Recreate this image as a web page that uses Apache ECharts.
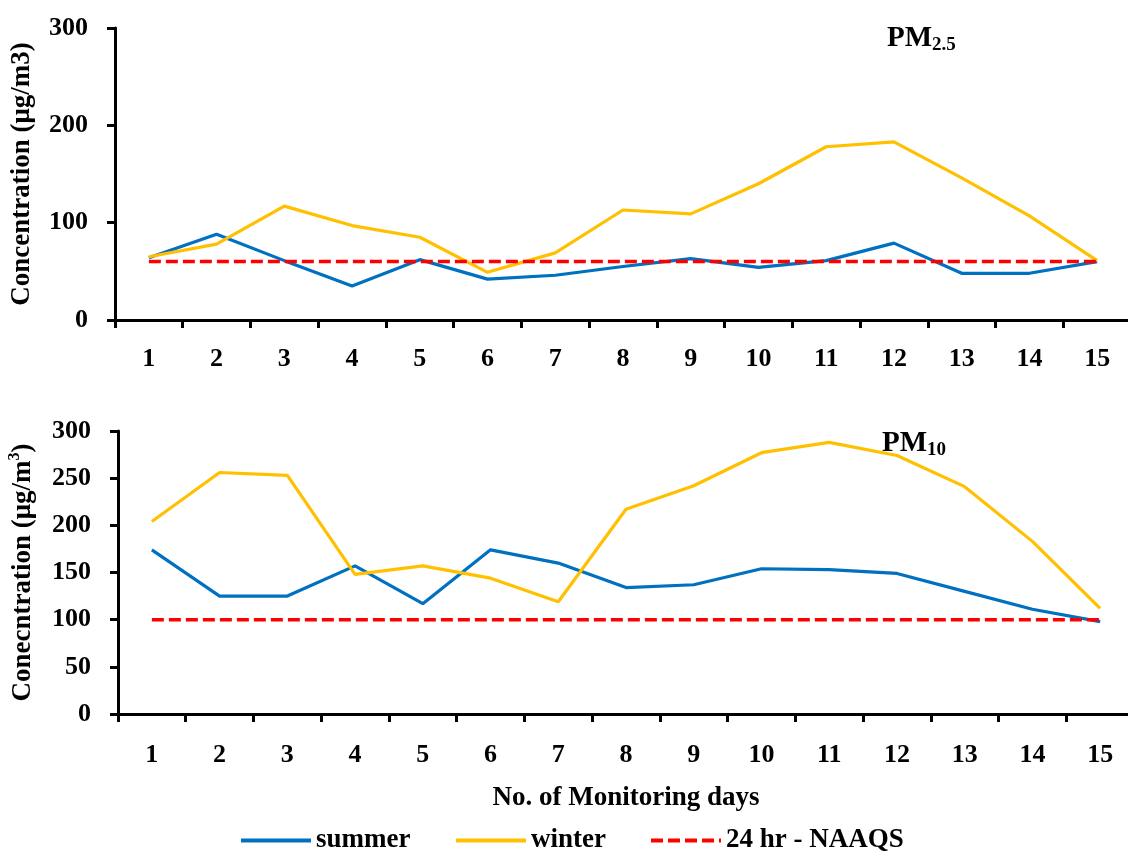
<!DOCTYPE html>
<html>
<head>
<meta charset="utf-8">
<script src="https://cdn.jsdelivr.net/npm/echarts@6/dist/echarts.min.js"></script>
<style>
  html, body { margin: 0; padding: 0; background: #fff; }
  #chart { width: 1128px; height: 852px; }
</style>
</head>
<body>
<div id="chart"></div>
<script>
// Monitoring days on the shared category axis
const days = ['1', '2', '3', '4', '5', '6', '7', '8', '9', '10', '11', '12', '13', '14', '15'];

// PM2.5 daily concentrations (µg/m3)
const pm25Summer = [64, 88, 61, 35, 62, 42, 46, 55, 63, 54, 61, 79, 48, 48, 60];
const pm25Winter = [65, 78, 117, 97, 85, 49, 69, 113, 109, 140, 178, 183, 146, 107, 61];
const pm25Limit = 60;

// PM10 daily concentrations (µg/m3)
const pm10Summer = [174, 125, 125, 157, 117, 174, 160, 134, 137, 154, 153, 149, 130, 111, 98];
const pm10Winter = [204, 256, 253, 148, 157, 144, 119, 217, 242, 277, 288, 274, 241, 183, 112];
const pm10Limit = 100;

const seriesNames = ['summer', 'winter', '24 hr - NAAQS'];

const FONT = "'Liberation Serif', 'DejaVu Serif', serif";
const TICK_SIZE = 26;
const NAME_SIZE = 27;
const BLUE = '#0070C0';
const GOLD = '#FFC000';
const RED = '#FF0000';

const chart = echarts.init(document.getElementById('chart'), null, { renderer: 'canvas' });

function xAxisFor(gridIndex, extra) {
  return Object.assign({
    type: 'category',
    gridIndex: gridIndex,
    data: days,
    boundaryGap: true,
    axisLine: { lineStyle: { color: '#000', width: 3 } },
    axisTick: { show: true, length: 8, lineStyle: { color: '#000', width: 3 } },
    axisLabel: { color: '#000', fontFamily: FONT, fontWeight: 'bold', fontSize: TICK_SIZE, margin: 26 },
    splitLine: { show: false }
  }, extra || {});
}

function yAxisFor(gridIndex, interval, name, nameRich) {
  return {
    type: 'value',
    gridIndex: gridIndex,
    min: 0,
    max: 300,
    interval: interval,
    name: name,
    nameLocation: 'middle',
    nameGap: 79,
    nameRotate: 90,
    nameTextStyle: Object.assign({
      color: '#000', fontFamily: FONT, fontWeight: 'bold', fontSize: NAME_SIZE
    }, nameRich ? { rich: nameRich } : {}),
    axisLine: { show: true, lineStyle: { color: '#000', width: 3 } },
    axisTick: { show: true, length: 8, lineStyle: { color: '#000', width: 3 } },
    axisLabel: { color: '#000', fontFamily: FONT, fontWeight: 'bold', fontSize: TICK_SIZE, margin: 27 },
    splitLine: { show: false }
  };
}

function lineSeries(name, values, color, idx, dashed) {
  return {
    name: name,
    type: 'line',
    xAxisIndex: idx,
    yAxisIndex: idx,
    data: values,
    symbol: 'none',
    smooth: false,
    silent: true,
    lineStyle: dashed
      ? { color: color, width: 3.5, type: [12, 5] }
      : { color: color, width: 3.2 },
    itemStyle: { color: color },
    z: dashed ? 3 : 2
  };
}

const supRich = {
  a: { fontFamily: FONT, fontWeight: 'bold', fontSize: NAME_SIZE, color: '#000', lineHeight: 32 },
  s: { fontFamily: FONT, fontWeight: 'bold', fontSize: 16, color: '#000', verticalAlign: 'top', lineHeight: 32, padding: [0, 0, 12, 0] }
};

const titleRich = {
  m: { fontFamily: FONT, fontWeight: 'bold', fontSize: 29, color: '#000', lineHeight: 34 },
  b: { fontFamily: FONT, fontWeight: 'bold', fontSize: 19, color: '#000', lineHeight: 34, padding: [12, 0, 0, 0] }
};

// one legend block per entry so each sits at its own spot on the bottom row
function legendAt(name, left) {
  return {
    data: [name],
    left: left,
    top: 822,
    itemWidth: 70,
    itemHeight: 16,
    selectedMode: false,
    itemStyle: { opacity: 0 },
    lineStyle: { width: 4 },
    textStyle: { color: '#000', fontFamily: FONT, fontWeight: 'bold', fontSize: NAME_SIZE, padding: [0, 0, 0, 0] }
  };
}

const option = {
  backgroundColor: '#fff',
  animation: false,
  title: [
    { text: '{m|PM}{b|2.5}', left: 882, top: 17, textStyle: { rich: titleRich } },
    { text: '{m|PM}{b|10}', left: 877, top: 422, textStyle: { rich: titleRich } }
  ],
  legend: [
    legendAt(seriesNames[0], 234),
    legendAt(seriesNames[1], 449),
    legendAt(seriesNames[2], 644)
  ],
  grid: [
    { left: 115, top: 28, width: 1016, height: 292, outerBoundsMode: 'none', containLabel: false },
    { left: 118, top: 431, width: 1016, height: 283, outerBoundsMode: 'none', containLabel: false }
  ],
  xAxis: [
    xAxisFor(0),
    xAxisFor(1, {
      name: 'No. of Monitoring days',
      nameLocation: 'middle',
      nameGap: 71,
      nameTextStyle: { color: '#000', fontFamily: FONT, fontWeight: 'bold', fontSize: NAME_SIZE },
      axisLabel: { color: '#000', fontFamily: FONT, fontWeight: 'bold', fontSize: TICK_SIZE, margin: 28 }
    })
  ],
  yAxis: [
    yAxisFor(0, 100, 'Concentration (μg/m3)'),
    yAxisFor(1, 50, '{a|Conecntration (μg/m}{s|3}{a|)}', supRich)
  ],
  series: [
    lineSeries(seriesNames[0], pm25Summer, BLUE, 0, false),
    lineSeries(seriesNames[1], pm25Winter, GOLD, 0, false),
    lineSeries(seriesNames[2], days.map(() => pm25Limit), RED, 0, true),
    lineSeries(seriesNames[0], pm10Summer, BLUE, 1, false),
    lineSeries(seriesNames[1], pm10Winter, GOLD, 1, false),
    lineSeries(seriesNames[2], days.map(() => pm10Limit), RED, 1, true)
  ]
};

chart.setOption(option);
</script>
</body>
</html>
